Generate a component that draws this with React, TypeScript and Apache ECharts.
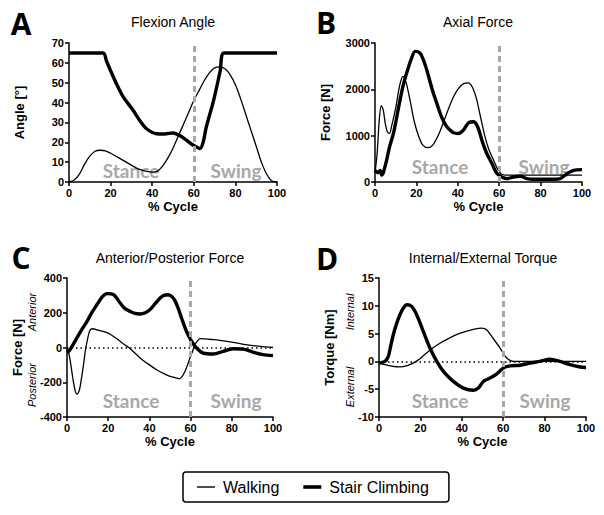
import React, { useEffect, useRef } from "react";
import * as echarts from "echarts";

// ---- Data ----
const X_TICKS = [0, 20, 40, 60, 80, 100];

const A_WALK_X = [0, 2.5, 5, 7.5, 10, 12.5, 15, 17.5, 20, 22.5, 25, 27.5, 30, 32.5, 35, 37.5, 40, 42.5, 45, 47.5, 50, 52.5, 55, 57.5, 60, 62.5, 65, 67.5, 70, 72.5, 75, 77.5, 80, 82.5, 85, 87.5, 90, 92.5, 95, 97.5, 100];
const A_WALK_Y = [0, 1, 4, 9, 13, 15.5, 16, 15.7, 14.5, 13, 11.5, 10, 8.5, 7, 6, 5.3, 5, 5.5, 8, 12, 17, 23, 29, 35, 41, 46, 51, 55, 57.5, 58, 57, 54, 49, 42, 34, 26, 18, 10, 4, 0.5, 0];
const A_STAIR_X = [0, 16.4, 18, 20, 22.8, 26, 30.9, 34, 37.3, 42, 46, 50, 53, 56.6, 59, 61.4, 63, 64.5, 66, 69.5, 72.7, 74.6, 100];
const A_STAIR_Y = [65, 65, 61, 56, 49.5, 43, 36, 31, 26.8, 24.3, 24.2, 24.7, 23.5, 21, 19, 17.6, 16.8, 20, 27.7, 41, 56, 65, 65];

const B_WALK_X = [0, 1, 2, 3, 4, 5, 6, 7, 8, 10, 12, 13.5, 15, 17, 19, 21, 23, 25.5, 28, 31, 34, 37, 40, 43, 45, 47, 49, 51, 53, 55, 57, 59, 61, 63, 100];
const B_WALK_Y = [200, 600, 1300, 1650, 1550, 1250, 1080, 1050, 1200, 1600, 2100, 2280, 2150, 1750, 1300, 1000, 800, 740, 800, 1050, 1400, 1750, 2000, 2130, 2140, 2050, 1800, 1400, 1000, 700, 500, 300, 170, 150, 150];
const B_STAIR_X = [0, 1.5, 2.5, 3.2, 4, 5.6, 7, 8.9, 10.5, 12.1, 13.7, 15.3, 17.5, 19.4, 21.8, 23.5, 25, 26.5, 28.2, 30, 31.5, 33, 34.7, 36.5, 37.9, 40.3, 42.7, 45.2, 47.6, 49.2, 50.5, 51.6, 54, 56.5, 58.9, 61.3, 63.7, 66.9, 70.2, 73.4, 76.6, 86.3, 89.5, 92.7, 96, 100];
const B_STAIR_Y = [250, 200, 250, 150, 200, 470, 750, 1048, 1400, 1771, 2100, 2350, 2650, 2820, 2780, 2620, 2420, 2180, 1916, 1680, 1482, 1320, 1193, 1110, 1063, 1048, 1120, 1280, 1301, 1229, 1080, 904, 615, 398, 181, 108, 72, 108, 123, 72, 58, 58, 72, 181, 253, 267];

const C_WALK_X = [0, 1, 2, 3, 4, 4.8, 6, 7, 8, 8.9, 10, 11, 12.1, 16, 20, 24, 28, 30, 35.5, 40, 43.5, 47, 50, 53, 54.8, 56, 57.3, 58.5, 59.7, 61, 62, 63.5, 64.5, 67, 71, 76, 80.6, 85, 90.3, 95, 100];
const C_WALK_Y = [0, -40, -110, -190, -250, -268, -245, -180, -100, -20, 50, 95, 108, 97, 83, 52, 16, 0, -60, -100, -128, -150, -166, -175, -179, -165, -137, -100, -60, -20, 16, 40, 51, 50, 45, 38, 30, 20, 11, 5, 0];
const C_STAIR_X = [0, 1, 2.4, 4.8, 7, 9.7, 12, 14.5, 17, 19.4, 22.6, 25.8, 28, 30.6, 33, 35.5, 38, 40.3, 43, 45.2, 47, 49.2, 51, 52.4, 54, 55.6, 58, 60.5, 62.9, 66.1, 71, 75.8, 80.6, 85.5, 90.3, 95.2, 100];
const C_STAIR_Y = [-30, -20, 5, 55, 100, 150, 200, 246, 290, 310, 304, 256, 225, 208, 196, 193, 200, 218, 255, 285, 300, 304, 292, 270, 225, 170, 93, 35, -3, -32, -37, -22, -7, -9, -26, -41, -47];

const D_WALK_X = [0, 3, 6, 10, 14, 18, 22, 26, 30, 34, 38, 42, 46, 49.6, 52, 55, 58.5, 61.7, 65, 100];
const D_WALK_Y = [-0.3, -0.6, -0.85, -1.0, -0.7, 0, 1.2, 2.4, 3.4, 4.2, 4.9, 5.4, 5.8, 6.0, 5.7, 4.2, 2.4, 0.6, 0, 0];
const D_STAIR_X = [0, 2.9, 4.5, 5.5, 6.9, 8.5, 10.1, 11.8, 13.4, 15.8, 18.2, 21.4, 24.6, 27.9, 31.1, 35.9, 40.7, 45.6, 48, 50.4, 53.6, 56.8, 60, 63.3, 68.1, 73, 77.8, 82.6, 87.4, 92.3, 97.1, 100];
const D_STAIR_Y = [-0.3, 0, 0.9, 2.5, 4.8, 6.8, 8.4, 9.6, 10.2, 9.9, 8.4, 5.4, 2.4, 0, -1.8, -3.6, -4.8, -5.2, -4.8, -3.6, -3.0, -2.3, -1.2, -0.8, -0.7, -0.3, 0, 0.4, 0, -0.6, -1.0, -1.1];

const PANEL_TITLES = ["Flexion Angle", "Axial Force", "Anterior/Posterior Force", "Internal/External Torque"];
const PANEL_LETTERS = ["A", "B", "C", "D"];
const Y_NAMES = ["Angle [°]", "Force [N]", "Force [N]", "Torque [Nm]"];
const Y_MIN = [0, 0, -400, -10];
const Y_MAX = [70, 3000, 400, 15];
const Y_INTERVAL = [10, 1000, 200, 5];
const PHASE_LINE = 60;
const SERIES_NAMES = ["Walking", "Stair Climbing"];

const zip = (xs: number[], ys: number[]) => xs.map((x, i) => [x, ys[i]]);

const FONT = "Liberation Sans";
const GRAY = "#a8a8a8";

export default function App() {
  const ref = useRef<HTMLDivElement>(null);
  useEffect(() => {
    if (!ref.current) return;
    const chart = echarts.init(ref.current, undefined, { renderer: "svg" });
    const grids = [
      { left: 69, top: 43, width: 208, height: 139 },
      { left: 375, top: 43, width: 207, height: 139 },
      { left: 67, top: 278, width: 206, height: 139 },
      { left: 379, top: 278, width: 207, height: 139 },
    ];
    const data = [
      [zip(A_WALK_X, A_WALK_Y), zip(A_STAIR_X, A_STAIR_Y)],
      [zip(B_WALK_X, B_WALK_Y), zip(B_STAIR_X, B_STAIR_Y)],
      [zip(C_WALK_X, C_WALK_Y), zip(C_STAIR_X, C_STAIR_Y)],
      [zip(D_WALK_X, D_WALK_Y), zip(D_STAIR_X, D_STAIR_Y)],
    ];
    const axisLine = { onZero: false, lineStyle: { color: "#000", width: 1.5 } };
    const axisTick = { show: true, length: 4, lineStyle: { color: "#000", width: 1.5 } };
    const labelStyle = { color: "#000", fontWeight: "bold" as const, fontSize: 11, fontFamily: FONT };
    const nameStyle = { color: "#000", fontWeight: "bold" as const, fontSize: 13, fontFamily: FONT };

    const xAxis = grids.map((_, i) => ({
      gridIndex: i, type: "value", min: X_TICKS[0], max: X_TICKS[X_TICKS.length - 1], interval: 20,
      name: "% Cycle", nameLocation: "middle", nameGap: 18, nameTextStyle: nameStyle,
      axisLine, axisTick, axisLabel: { ...labelStyle, margin: 5 }, splitLine: { show: false },
    }));
    const yAxis = grids.map((_, i) => ({
      gridIndex: i, type: "value", min: Y_MIN[i], max: Y_MAX[i], interval: Y_INTERVAL[i],
      name: Y_NAMES[i], nameLocation: "middle", nameGap: 43, nameTextStyle: nameStyle,
      axisLine: { ...axisLine, show: true }, axisTick,
      axisLabel: { ...labelStyle, margin: 5, formatter: (v: number) => String(v) },
      splitLine: { show: false },
    }));

    const series: any[] = [];
    grids.forEach((_, i) => {
      const markLineData: any[] = [{ xAxis: PHASE_LINE, lineStyle: { color: GRAY, width: 3, type: [6, 4] } }];
      if (i >= 2) markLineData.push({ yAxis: 0, lineStyle: { color: "#000", width: 1.5, type: [1.5, 3] } });
      series.push({
        type: "line", xAxisIndex: i, yAxisIndex: i, data: [], z: 1,
        markLine: { silent: true, symbol: "none", label: { show: false }, data: markLineData },
      });
      series.push({
        name: SERIES_NAMES[0], type: "line", xAxisIndex: i, yAxisIndex: i, data: data[i][0],
        showSymbol: false, symbol: "none", smooth: 0.3, z: 3,
        lineStyle: { color: "#000", width: 1.3 }, itemStyle: { color: "#000" },
      });
      series.push({
        name: SERIES_NAMES[1], type: "line", xAxisIndex: i, yAxisIndex: i, data: data[i][1],
        showSymbol: false, symbol: "none", smooth: 0.3, z: 4,
        lineStyle: { color: "#000", width: 3.4 }, itemStyle: { color: "#000" },
      });
    });

    const letterPos = [[21, 23], [326, 22], [21, 257], [327, 258]];
    const titlePos = [[173, 22], [478, 22], [170, 258], [483, 258]];
    const stancePos = [[131, 170], [440, 166], [131, 400], [440, 400]];
    const swingPos = [[236, 170], [544, 166], [236, 400], [545, 400]];
    const txt = (x: number, y: number, text: string, extra: any, rotation = 0) => ({
      type: "text", x, y, rotation, z: 0,
      style: { text, align: "center", verticalAlign: "middle", fill: "#000", ...extra },
    });
    const graphic: any[] = [];
    for (let i = 0; i < 4; i++) {
      graphic.push(txt(letterPos[i][0], letterPos[i][1], PANEL_LETTERS[i], { fontSize: 30, fontWeight: "bold", fontFamily: "Open Sans" }));
      graphic.push(txt(titlePos[i][0], titlePos[i][1], PANEL_TITLES[i], { fontSize: 14, fontFamily: FONT }));
      graphic.push(txt(stancePos[i][0], stancePos[i][1], "Stance", { fontSize: 19, fontWeight: "bold", fontFamily: "Lato", fill: GRAY }));
      graphic.push(txt(swingPos[i][0], swingPos[i][1], "Swing", { fontSize: 19, fontWeight: "bold", fontFamily: "Lato", fill: GRAY }));
    }
    const ital = { fontSize: 11, fontStyle: "italic", fontFamily: FONT };
    graphic.push(txt(32, 312, "Anterior", ital, Math.PI / 2));
    graphic.push(txt(32, 385, "Posterior", ital, Math.PI / 2));
    graphic.push(txt(350, 312, "Internal", ital, Math.PI / 2));
    graphic.push(txt(350, 387, "External", ital, Math.PI / 2));

    chart.setOption({
      animation: false,
      backgroundColor: "#fff",
      grid: grids,
      xAxis,
      yAxis,
      series,
      graphic,
      legend: {
        data: [
          { name: SERIES_NAMES[0], icon: "path://M0,0H18V1.4H0Z" },
          { name: SERIES_NAMES[1], icon: "path://M0,0H18V3.6H0Z" },
        ],
        left: 183, top: 472,
        padding: [7, 20, 7, 14],
        itemWidth: 18, itemHeight: 14, itemGap: 24,
        symbolKeepAspect: true,
        borderColor: "#000", borderWidth: 1.5, borderRadius: 3,
        textStyle: { fontSize: 16, fontFamily: FONT, color: "#000", padding: [0, 0, 0, 3] },
      },
    });
    return () => chart.dispose();
  }, []);
  return <div ref={ref} style={{ position: "absolute", left: 0, top: 0, width: 604, height: 515, background: "#fff" }} />;
}
